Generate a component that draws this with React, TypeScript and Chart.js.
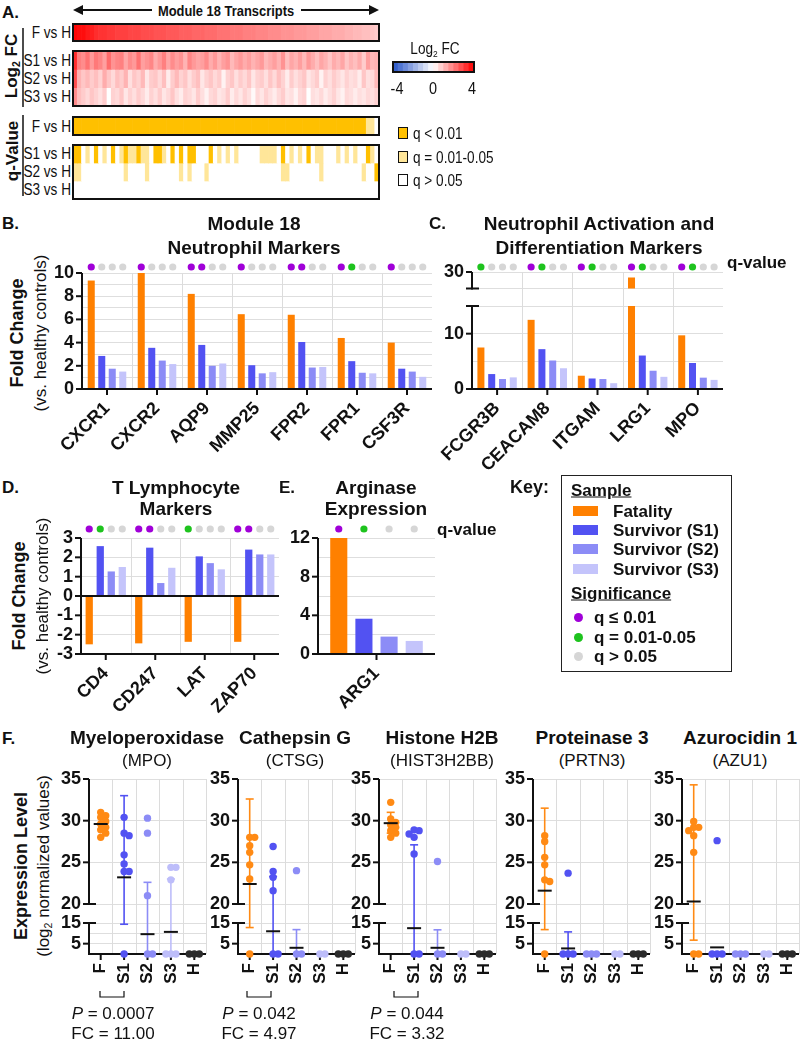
import React, { useEffect, useRef } from 'react';
import { Chart, registerables } from 'chart.js';
Chart.register(...registerables);

const SANS = '"Liberation Sans", Arial, Helvetica, sans-serif';
const INK = '#111111';
const GRID = '#dedede';

// ---------------- Panel A data (72 transcripts) ----------------
const HEAT_F = [3.9,3.8,3.8,3.6,3.5,3.3,3.2,3.2,3.1,3.1,3.0,3.0,3.0,2.9,2.9,2.9,2.8,2.8,2.8,2.7,2.7,2.7,2.6,2.6,2.6,2.5,2.5,2.5,2.4,2.4,2.4,2.3,2.3,2.3,2.2,2.2,2.2,2.1,2.1,2.1,2.0,2.0,2.0,1.9,1.9,1.9,1.8,1.8,1.8,1.7,1.7,1.7,1.6,1.6,1.6,1.5,1.5,1.5,1.4,1.4,1.4,1.3,1.3,1.3,1.2,1.2,1.1,1.1,1.0,1.0,0.9,0.8];
const HEAT_S1 = [3.3,2.0,1.8,2.2,1.6,2.1,1.9,1.5,2.3,1.7,1.9,2.0,1.4,1.8,1.6,2.2,1.5,1.7,1.9,1.3,1.6,2.0,1.4,1.8,1.5,1.7,1.2,1.9,1.6,1.4,1.5,1.8,1.3,1.6,1.2,1.5,1.7,1.1,1.4,1.6,1.3,1.5,1.2,1.4,1.6,1.1,1.3,1.5,1.2,1.7,1.0,1.4,1.2,1.5,1.1,1.6,1.3,1.0,1.4,1.2,0.9,1.3,1.1,1.4,0.9,1.2,1.0,1.3,0.8,1.5,1.1,1.2];
const HEAT_S2 = [2.8,1.2,0.9,1.1,0.8,1.0,0.7,1.3,0.9,0.6,1.0,0.8,1.2,0.5,0.9,0.7,1.1,0.4,0.8,0.9,0.6,1.0,0.3,0.8,1.1,0.7,0.9,0.5,0.8,1.0,0.4,0.7,0.9,0.6,0.8,0.2,0.7,0.9,0.5,0.8,0.6,0.9,0.4,0.7,0.8,0.5,0.9,0.6,1.0,0.7,0.3,0.8,0.5,0.7,0.9,0.4,0.6,0.8,0.2,0.7,0.5,0.8,0.6,0.4,0.7,0.5,0.6,0.3,0.9,0.5,0.6,1.1];
const HEAT_S3 = [1.8,1.0,0.8,0.6,0.9,0.7,0.5,0.8,0.0,0.7,0.6,0.9,0.4,0.7,0.5,0.8,0.6,0.3,0.7,0.5,0.8,0.4,0.6,0.9,0.5,0.3,0.7,0.6,0.4,0.8,0.5,0.2,0.6,0.7,0.4,0.5,0.8,0.3,0.6,0.4,0.7,0.5,0.1,0.6,0.4,0.7,0.5,0.3,0.6,0.8,0.4,0.5,0.2,0.6,0.7,0.0,0.5,0.4,0.6,0.3,0.5,0.7,0.4,0.2,0.6,0.5,0.3,0.5,0.4,0.6,0.5,0.7];
// q codes: 2 = q<0.01, 1 = 0.01-0.05, 0 = q>0.05
const Q_F = [2,2,2,2,2,2,2,2,2,2, 2,2,2,2,2,2,2,2,2,2, 2,2,2,2,2,2,2,2,2,2, 2,2,2,2,2,2,2,2,2,2, 2,2,2,2,2,2,2,2,2,2, 2,2,2,2,2,2,2,2,2,2, 2,2,2,2,2,2,2,2,2,1, 1,0];
const Q_S1 = [2,2,0,1,0,2,0,1,0,2, 0,1,2,1,1,2,1,1,0,2, 2,1,0,2,0,2,0,2,2,0, 0,0,2,0,1,0,1,0,1,0, 0,0,0,0,1,1,1,1,0,2, 0,1,0,1,0,2,0,1,1,0, 0,0,1,0,1,0,1,0,0,2, 1,0];
const Q_S2 = [1,1,0,0,0,0,0,0,0,0, 0,0,1,0,0,0,0,1,0,0, 0,0,0,0,0,1,0,1,0,0, 0,1,0,0,0,0,0,0,0,0, 0,0,0,0,0,0,0,0,0,1, 1,0,0,0,0,0,0,0,1,0, 0,0,0,0,0,0,0,0,1,0, 0,2];
const Q_S3 = [0,0,0,0,0,0,0,0,0,0, 0,0,0,0,0,0,0,0,0,0, 0,0,0,0,0,0,0,0,0,0, 0,0,0,0,0,0,0,0,0,0, 0,0,0,0,0,0,0,0,0,0, 0,0,0,0,0,0,0,0,0,0, 0,0,0,0,0,0,0,0,0,0, 0,0];
const CB_STEPS = [-3.75,-3.25,-2.75,-2.25,-1.75,-1.25,-0.75,-0.25,0.25,0.75,1.25,1.75,2.25,2.75,3.25,3.75];

// ---------------- Panel B ----------------
const B_GENES = ['CXCR1', 'CXCR2', 'AQP9', 'MMP25', 'FPR2', 'FPR1', 'CSF3R'];
const B_F = [9.35, 10.0, 8.2, 6.45, 6.4, 4.4, 4.0];
const B_S1 = [2.85, 3.55, 3.8, 2.05, 4.05, 2.4, 1.75];
const B_S2 = [1.75, 2.45, 2.0, 1.35, 1.85, 1.4, 1.5];
const B_S3 = [1.5, 2.15, 2.2, 1.45, 1.9, 1.35, 1.05];
const B_QF = [2, 2, 2, 2, 2, 2, 2];
const B_QS1 = [0, 0, 2, 0, 2, 1, 0];
const B_QS2 = [0, 0, 0, 0, 0, 0, 0];
const B_QS3 = [0, 0, 0, 0, 0, 0, 0];

// ---------------- Panel C ----------------
const C_GENES = ['FCGR3B', 'CEACAM8', 'ITGAM', 'LRG1', 'MPO'];
const C_F = [7.5, 12.5, 2.4, 29.0, 9.7];
const C_S1 = [2.7, 7.2, 1.9, 6.05, 4.7];
const C_S2 = [1.8, 5.15, 1.8, 3.3, 2.05];
const C_S3 = [2.1, 3.75, 1.05, 2.2, 1.65];
const C_QF = [1, 2, 2, 2, 2];
const C_QS1 = [0, 1, 1, 1, 1];
const C_QS2 = [0, 0, 0, 0, 0];
const C_QS3 = [0, 0, 0, 0, 0];

// ---------------- Panel D ----------------
const D_GENES = ['CD4', 'CD247', 'LAT', 'ZAP70'];
const D_F = [-2.5, -2.45, -2.37, -2.37];
const D_S1 = [2.58, 2.5, 2.05, 2.4];
const D_S2 = [1.27, 0.67, 1.7, 2.15];
const D_S3 = [1.5, 1.46, 1.38, 2.15];
const D_QF = [2, 2, 1, 2];
const D_QS1 = [1, 2, 0, 2];
const D_QS2 = [0, 0, 0, 0];
const D_QS3 = [0, 0, 0, 0];

// ---------------- Panel E ----------------
const E_GENES = ['ARG1'];
const E_F = [12.0];
const E_S1 = [3.65];
const E_S2 = [1.8];
const E_S3 = [1.35];
const E_Q = [[2], [1], [0], [0]];

// ---------------- Panel F ----------------
const F_GROUPS = ['F', 'S1', 'S2', 'S3', 'H'];
const MPO_PTS = [[31.0, 30.6, 30.4, 29.9, 29.6, 29.2, 28.9, 28.5, 28.0], [30.4, 28.5, 28.2, 25.9, 24.8, 23.9, 23.9, 0], [30.3, 28.5, 21.0, 0, 0], [24.4, 24.4, 22.9, 0, 0, 0], [0, 0, 0]];
const MPO_MEAN = [29.6, 23.2, 9.6, 10.7, null];
const MPO_LO = [null, 14.4, 0, 0, null];
const MPO_HI = [null, 33.0, 22.6, 23.0, null];

const CTSG_PTS = [[28.0, 28.0, 27.0, 26.2, 24.7, 23.0, 0], [26.9, 23.9, 23.2, 21.6, 0, 0], [24.0, 0, 0], [0, 0], [0, 0, 0]];
const CTSG_MEAN = [22.4, 11.0, 3.0, null, null];
const CTSG_LO = [12.8, 0, 0, null, null];
const CTSG_HI = [32.6, 23.3, 11.8, null, null];

const HIST_PTS = [[32.2, 30.2, 29.8, 29.5, 29.2, 28.8, 28.5, 28.0], [28.9, 28.8, 28.4, 28.0, 26.0, 0, 0], [25.1, 0, 0], [0, 0], [0, 0, 0]];
const HIST_MEAN = [29.7, 12.5, 3.0, null, null];
const HIST_LO = [28.5, 0, 0, null, null];
const HIST_HI = [31.0, 27.1, 11.7, null, null];

const PRTN3_PTS = [[28.2, 27.5, 25.6, 24.7, 22.9, 22.7, 0], [23.7, 0, 0, 0], [0, 0, 0], [0, 0], [0, 0, 0]];
const PRTN3_MEAN = [21.6, 2.7, null, null, null];
const PRTN3_LO = [11.8, 0, null, null, null];
const PRTN3_HI = [31.5, 10.7, null, null, null];

const AZU1_PTS = [[29.9, 29.2, 29.2, 28.8, 28.2, 26.2, 0, 0], [27.6, 0, 0, 0], [0, 0, 0], [0, 0], [0, 0, 0]];
const AZU1_MEAN = [20.3, 3.2, null, null, null];
const AZU1_LO = [6.7, null, null, null, null];
const AZU1_HI = [34.3, null, null, null, null];

// ---------------- styling ----------------
const SERIES = ['#FF8000', '#5252F2', '#8C8CF6', '#C4C4FB'];
const F_COLORS = ['#FF8A14', '#5252F2', '#8C8CF6', '#BDBDFA', '#2b2b2b'];
const QCOL = ['#d6d6d6', '#1ec31e', '#a000d8'];
const QHEAT = ['#ffffff', '#FFE699', '#FFC000'];
const TICK_FONT = { family: SANS, size: 18, weight: 'bold' as const };
const F_TICK_FONT = { family: SANS, size: 17, weight: 'bold' as const };

function logColor(v: number) {
  const t = Math.max(-1, Math.min(1, v / 4));
  if (t >= 0) {
    const g = Math.round(255 * (1 - t));
    return `rgb(255,${g},${g})`;
  }
  const s = -t;
  return `rgb(${Math.round(255 + (40 - 255) * s)},${Math.round(255 + (85 - 255) * s)},${Math.round(255 + (200 - 255) * s)})`;
}

function fixW(w: number) {
  return (s: any) => { s.width = w; s.paddingTop = 0; s.paddingBottom = 0; s.paddingLeft = 0; s.paddingRight = 0; };
}
function fixH(h: number) {
  return (s: any) => { s.height = h; s.paddingTop = 0; s.paddingBottom = 0; s.paddingLeft = 0; s.paddingRight = 0; };
}

function line(ctx: any, x1: number, y1: number, x2: number, y2: number) {
  ctx.beginPath(); ctx.moveTo(x1, y1); ctx.lineTo(x2, y2); ctx.stroke();
}

function decor(o: any) {
  const axes = (chart: any) => {
    const { ctx, chartArea: a } = chart;
    const xs = chart.scales.x; const ys = chart.scales.y;
    ctx.save(); ctx.strokeStyle = INK; ctx.lineWidth = 2;
    line(ctx, a.left, a.top, a.left, a.bottom + 1);
    (o.xLineAt || []).forEach((v: number) => { const y = ys.getPixelForValue(v); line(ctx, a.left - 1, y, a.right, y); });
    (o.yTicks || []).forEach((v: number) => { const y = ys.getPixelForValue(v); line(ctx, a.left - 6, y, a.left, y); });
    if (o.xTicks) for (let i = 0; i < o.xTicks; i++) { const x = xs.getPixelForValue(i); line(ctx, x, a.bottom, x, a.bottom + 6); }
    if (o.breakTop) line(ctx, a.left - 6, a.top, a.left + 7, a.top);
    if (o.breakBottom) line(ctx, a.left - 6, a.bottom, a.left + 7, a.bottom);
    ctx.restore();
  };
  return {
    id: 'decor',
    beforeDatasetsDraw(chart: any) {
      const { ctx, chartArea: a } = chart;
      const xs = chart.scales.x; const ys = chart.scales.y;
      ctx.save();
      if (o.bounds) {
        ctx.strokeStyle = '#dcdcdc'; ctx.lineWidth = 1;
        o.bounds.forEach((b: number) => { const x = Math.round(xs.getPixelForValue(b)) + 0.5; line(ctx, x, a.top, x, a.bottom + (o.extBottom || 0)); });
      }
      if (o.err) {
        const e = o.err; const gap = o.extBottom || 0;
        const segPix = (v: number) => (v > e.ymax ? a.top : v < e.ymin ? a.bottom + gap : ys.getPixelForValue(v));
        const inSeg = (v: number) => v >= e.ymin && v <= e.ymax;
        ctx.lineWidth = 1.6;
        e.mean.forEach((m: number | null, g: number) => {
          if (m == null) return;
          const x = xs.getPixelForValue(g);
          ctx.strokeStyle = e.colors[g];
          const hi = e.hi[g]; const lo = e.lo[g];
          const segs: number[][] = [];
          if (hi != null) segs.push([m, hi]);
          if (lo != null) segs.push([lo, m]);
          segs.forEach(([v1, v2]) => {
            if ((v1 < e.ymin && v2 < e.ymin) || (v1 > e.ymax && v2 > e.ymax)) return;
            line(ctx, x, segPix(v1), x, segPix(v2));
          });
          [hi, lo].forEach((v: number | null) => {
            if (v != null && v > 0 && inSeg(v)) { const y = ys.getPixelForValue(v); line(ctx, x - 4, y, x + 4, y); }
          });
        });
      }
      ctx.restore();
      if (o.axesBehind) axes(chart);
    },
    afterDatasetsDraw(chart: any) {
      if (!o.axesBehind) axes(chart);
      const { ctx, chartArea: a } = chart;
      const xs = chart.scales.x; const ys = chart.scales.y;
      ctx.save();
      if (o.qdots) {
        o.qdots.q.forEach((row: number[], i: number) => {
          const meta = chart.getDatasetMeta(i);
          row.forEach((c: number, j: number) => {
            const el = meta.data[j];
            ctx.fillStyle = QCOL[c];
            ctx.beginPath(); ctx.arc(el.x, a.top - o.qdots.dy, 3.6, 0, Math.PI * 2); ctx.fill();
          });
        });
      }
      if (o.err) {
        const e = o.err;
        ctx.strokeStyle = INK; ctx.lineWidth = 2;
        e.mean.forEach((m: number | null, g: number) => {
          if (m == null || m < e.ymin || m > e.ymax) return;
          const x = xs.getPixelForValue(g); const y = ys.getPixelForValue(m);
          line(ctx, x - 7, y, x + 7, y);
        });
      }
      ctx.restore();
    },
  };
}

function barChart(p: any) {
  return {
    type: 'bar',
    data: {
      labels: p.labels,
      datasets: p.series.map((d: number[], i: number) => ({
        data: d, backgroundColor: SERIES[i], borderWidth: 0, clip: 0,
        categoryPercentage: p.catPct, barPercentage: p.barPct,
      })),
    },
    options: {
      responsive: false, animation: false, events: [],
      layout: { padding: { top: p.top, right: p.right, bottom: p.bottom || 0, left: 0 } },
      plugins: { legend: { display: false }, tooltip: { enabled: false } },
      scales: {
        x: p.showX === false ? { display: false } : {
          grid: { display: false, drawTicks: false }, border: { display: false },
          ticks: { font: TICK_FONT, color: INK, autoSkip: false, minRotation: 45, maxRotation: 45, padding: 9 },
          afterFit: fixH(p.xH),
        },
        y: {
          min: p.min, max: p.max,
          grid: { color: GRID, drawTicks: false }, border: { display: false },
          ticks: { stepSize: p.step, autoSkip: false, font: TICK_FONT, color: INK, padding: 8, callback: (v: number) => (p.show(v) ? String(v) : '') },
          afterFit: fixW(p.yW),
        },
      },
    },
    plugins: [decor(p.decor)],
  };
}

function heatChart(rows: number[][], colorFn: (v: number) => string) {
  const n = rows.length;
  return {
    type: 'bar',
    data: {
      labels: rows[0].map((_, i) => String(i + 1)),
      datasets: rows.map((r, ri) => ({
        data: r.map(() => [n - 1 - ri, n - ri]),
        backgroundColor: r.map(colorFn), borderWidth: 0,
        barPercentage: 1, categoryPercentage: 1, grouped: false,
      })),
    },
    options: {
      responsive: false, animation: false, events: [],
      layout: { padding: 0 },
      plugins: { legend: { display: false }, tooltip: { enabled: false } },
      scales: { x: { display: false }, y: { display: false, min: 0, max: n } },
    },
  };
}

function swarm(vals: number[]): number[] {
  const toPx = (v: number) => (v >= 17.5 ? 60 + (v - 20) * 8.4 : v * 2.1);
  const placed: { x: number; y: number }[] = [];
  const cand = [0, 5, -5, 10, -10, 2.5, -2.5, 7.5, -7.5, 12.5, -12.5];
  return vals.map((v) => {
    const y = toPx(v);
    const ok = cand.find((c) => placed.every((p) => Math.hypot(p.x - c, p.y - y) >= 5));
    const px = ok === undefined ? 0 : ok;
    placed.push({ x: px, y });
    return px / 23.4;
  });
}

function fChart(pts: number[][], mean: any[], lo: any[], hi: any[], top: boolean) {
  const offs = pts.map(swarm);
  const ymin = top ? 20 : 0; const ymax = top ? 35 : 15;
  return {
    type: 'scatter',
    data: {
      datasets: F_GROUPS.map((g, gi) => ({
        label: g,
        data: pts[gi].map((v, k) => ({ x: gi + offs[gi][k], y: v })),
        backgroundColor: F_COLORS[gi], pointRadius: 3.7, pointBorderWidth: 0, pointHoverRadius: 0,
        clip: top ? { left: false, right: false, top: 8, bottom: 0 } : { left: false, right: false, top: 0, bottom: false },
      })),
    },
    options: {
      responsive: false, animation: false, events: [],
      layout: { padding: { top: top ? 11 : 8, right: 4, bottom: top ? 24 : 0, left: 0 } },
      plugins: { legend: { display: false }, tooltip: { enabled: false } },
      scales: {
        x: top ? { type: 'linear', min: -0.5, max: 4.5, display: false } : {
          type: 'linear', min: -0.5, max: 4.5,
          grid: { display: false, drawTicks: false }, border: { display: false },
          afterBuildTicks: (s: any) => { s.ticks = F_GROUPS.map((_, i) => ({ value: i })); },
          ticks: { font: F_TICK_FONT, color: INK, autoSkip: false, minRotation: 90, maxRotation: 90, padding: 9, callback: (v: number) => F_GROUPS[v] },
          afterFit: fixH(46),
        },
        y: {
          min: ymin, max: ymax,
          grid: { color: GRID, drawTicks: false }, border: { display: false },
          ticks: { stepSize: 5, autoSkip: false, font: TICK_FONT, color: INK, padding: 8, callback: (v: number) => (top || v === 5 || v === 15 ? String(v) : '') },
          afterFit: fixW(40),
        },
      },
    },
    plugins: [decor({
      bounds: [0.5, 1.5, 2.5, 3.5, 4.5],
      extBottom: top ? 19 : 0,
      yTicks: top ? [25, 30, 35] : [5],
      breakTop: !top, breakBottom: top,
      xLineAt: top ? [] : [0],
      xTicks: top ? 0 : 5,
      axesBehind: !top,
      err: { mean, lo, hi, colors: F_COLORS, ymin, ymax },
    })],
  };
}

function ChartBox({ x, y, w, h, make }: { x: number; y: number; w: number; h: number; make: () => any }) {
  const ref = useRef<HTMLCanvasElement>(null);
  useEffect(() => {
    const c = new Chart(ref.current as HTMLCanvasElement, make());
    return () => c.destroy();
  }, []);
  return (
    <div style={{ position: 'absolute', left: x, top: y, width: w, height: h }}>
      <canvas ref={ref} width={w} height={h} style={{ width: w, height: h, display: 'block' }} />
    </div>
  );
}

type TP = { x: number; y: number; s?: number; b?: boolean; i?: boolean; a?: 'left' | 'center' | 'right'; r?: number; sx?: number; u?: boolean; children: React.ReactNode };
function T({ x, y, s = 17, b = false, i = false, a = 'center', r = 0, sx = 1, u = false, children }: TP) {
  const tx = a === 'center' ? '-50%' : a === 'right' ? '-100%' : '0%';
  const origin = a === 'center' ? 'center center' : a === 'right' ? 'right center' : 'left center';
  return (
    <div style={{ position: 'absolute', left: x, top: y, transform: `translate(${tx}, -50%) rotate(${r}deg) scaleX(${sx})`, transformOrigin: origin, whiteSpace: 'nowrap', fontFamily: SANS, fontSize: s, fontWeight: b ? 700 : 400, fontStyle: i ? 'italic' : 'normal', textDecoration: u ? 'underline' : 'none', lineHeight: 1, color: INK }}>
      {children}
    </div>
  );
}
const Sub = ({ c }: { c: string }) => <span style={{ fontSize: '0.62em', verticalAlign: '-0.28em' }}>{c}</span>;

function Box({ x, y, w, h }: { x: number; y: number; w: number; h: number }) {
  return <div style={{ position: 'absolute', left: x - 1, top: y - 1, width: w + 2, height: h + 2, border: `2px solid ${INK}`, boxSizing: 'border-box' }} />;
}

const F_PANELS = [
  { ax: 89, title: 'Myeloperoxidase', sub: '(MPO)', pts: MPO_PTS, mean: MPO_MEAN, lo: MPO_LO, hi: MPO_HI, tx: 147 },
  { ax: 238, title: 'Cathepsin G', sub: '(CTSG)', pts: CTSG_PTS, mean: CTSG_MEAN, lo: CTSG_LO, hi: CTSG_HI, tx: 295 },
  { ax: 379, title: 'Histone H2B', sub: '(HIST3H2BB)', pts: HIST_PTS, mean: HIST_MEAN, lo: HIST_LO, hi: HIST_HI, tx: 442 },
  { ax: 533, title: 'Proteinase 3', sub: '(PRTN3)', pts: PRTN3_PTS, mean: PRTN3_MEAN, lo: PRTN3_LO, hi: PRTN3_HI, tx: 592 },
  { ax: 682, title: 'Azurocidin 1', sub: '(AZU1)', pts: AZU1_PTS, mean: AZU1_MEAN, lo: AZU1_LO, hi: AZU1_HI, tx: 740 },
];
const F_STATS = [
  { cx: 113, p: '0.0007', fc: '11.00', b1: 100, b2: 124 },
  { cx: 259, p: '0.042', fc: '4.97', b1: 247, b2: 271 },
  { cx: 407, p: '0.044', fc: '3.32', b1: 394, b2: 418 },
];

export default function App() {
  const a = 16, sxA = 0.85;
  return (
    <div style={{ position: 'absolute', left: 0, top: 0, width: 800, height: 1043, background: '#fff', overflow: 'hidden' }}>
      <svg style={{ position: 'absolute', left: 0, top: 0 }} width={800} height={1043}>
        <line x1={80} y1={10} x2={152} y2={10} stroke={INK} strokeWidth={2} />
        <polygon points="73,10 83,5 83,15" fill={INK} />
        <line x1={301} y1={10} x2={372} y2={10} stroke={INK} strokeWidth={2} />
        <polygon points="379,10 369,5 369,15" fill={INK} />
        <line x1={23} y1={28} x2={23} y2={107} stroke={INK} strokeWidth={1.5} />
        <line x1={23} y1={115} x2={23} y2={196} stroke={INK} strokeWidth={1.5} />
        {F_STATS.map((s, k) => (
          <path key={k} d={`M${s.b1},991 L${s.b1},997 L${s.b2},997 L${s.b2},991`} stroke={INK} strokeWidth={1.2} fill="none" />
        ))}
      </svg>

      {/* ---------- Panel A ---------- */}
      <T x={2} y={12} b a="left" s={17}>A.</T>
      <T x={226} y={10} b s={15} sx={0.86}>Module 18 Transcripts</T>
      <T x={12} y={66} b r={-90} s={17}>Log<Sub c="2" /> FC</T>
      <T x={12} y={151} b r={-90} s={17}>q-Value</T>
      <T x={71} y={33} a="right" s={a} sx={sxA}>F vs H</T>
      <T x={71} y={61} a="right" s={a} sx={sxA}>S1 vs H</T>
      <T x={71} y={79} a="right" s={a} sx={sxA}>S2 vs H</T>
      <T x={71} y={97} a="right" s={a} sx={sxA}>S3 vs H</T>
      <T x={71} y={127} a="right" s={a} sx={sxA}>F vs H</T>
      <T x={71} y={154} a="right" s={a} sx={sxA}>S1 vs H</T>
      <T x={71} y={172} a="right" s={a} sx={sxA}>S2 vs H</T>
      <T x={71} y={190} a="right" s={a} sx={sxA}>S3 vs H</T>
      <ChartBox x={73} y={24} w={306} h={17} make={() => heatChart([HEAT_F], logColor)} />
      <ChartBox x={73} y={51} w={306} h={55} make={() => heatChart([HEAT_S1, HEAT_S2, HEAT_S3], logColor)} />
      <ChartBox x={73} y={117} w={306} h={18} make={() => heatChart([Q_F], (v) => QHEAT[v])} />
      <ChartBox x={73} y={145} w={306} h={54} make={() => heatChart([Q_S1, Q_S2, Q_S3], (v) => QHEAT[v])} />
      <ChartBox x={393} y={62} w={81} h={10} make={() => heatChart([CB_STEPS], logColor)} />
      <Box x={73} y={24} w={306} h={17} />
      <Box x={73} y={51} w={306} h={55} />
      <Box x={73} y={117} w={306} h={18} />
      <Box x={73} y={145} w={306} h={54} />
      <Box x={393} y={62} w={81} h={10} />
      <T x={435} y={50} s={16} sx={0.85}>Log<Sub c="2" /> FC</T>
      <T x={397} y={88} s={17} sx={0.85}>-4</T>
      <T x={433} y={88} s={17} sx={0.85}>0</T>
      <T x={472} y={88} s={17} sx={0.85}>4</T>
      {[{ y: 133, c: QHEAT[2], t: 'q < 0.01' }, { y: 157, c: QHEAT[1], t: 'q = 0.01-0.05' }, { y: 180, c: QHEAT[0], t: 'q > 0.05' }].map((r, k) => (
        <React.Fragment key={k}>
          <div style={{ position: 'absolute', left: 398, top: r.y - 6, width: 10, height: 12, background: r.c, border: `1.5px solid ${INK}`, boxSizing: 'border-box' }} />
          <T x={413} y={r.y} a="left" s={17} sx={0.8}>{r.t}</T>
        </React.Fragment>
      ))}

      {/* ---------- Panel B ---------- */}
      <T x={2} y={223} b a="left">B.</T>
      <T x={254} y={223} b s={19}>Module 18</T>
      <T x={254} y={247} b s={19}>Neutrophil Markers</T>
      <T x={17} y={333} b r={-90} s={18}>Fold Change</T>
      <T x={40} y={333} r={-90} s={17}>(vs. healthy controls)</T>
      <ChartBox x={30} y={255} w={410} h={215} make={() => barChart({
        labels: B_GENES, series: [B_F, B_S1, B_S2, B_S3], min: 0, max: 10, step: 1, show: (v: number) => v % 2 === 0,
        yW: 52, top: 18, right: 8, xH: 81, catPct: 0.84, barPct: 0.67,
        decor: { bounds: B_GENES.slice(1).map((_, i) => i + 0.5), xLineAt: [0], yTicks: [0, 2, 4, 6, 8, 10], xTicks: B_GENES.length, qdots: { q: [B_QF, B_QS1, B_QS2, B_QS3], dy: 6 } },
      })} />

      {/* ---------- Panel C ---------- */}
      <T x={429} y={223} b a="left">C.</T>
      <T x={599} y={223} b s={19}>Neutrophil Activation and</T>
      <T x={599} y={247} b s={19}>Differentiation Markers</T>
      <T x={727} y={262} b a="left">q-value</T>
      <ChartBox x={400} y={255} w={330} h={55} make={() => barChart({
        labels: C_GENES, series: [C_F, C_S1, C_S2, C_S3], min: 27, max: 30, step: 3, show: (v: number) => v === 30,
        yW: 72, top: 17, right: 7, bottom: 21.5, showX: false, catPct: 0.86, barPct: 0.65,
        decor: { bounds: C_GENES.slice(1).map((_, i) => i + 0.5), extBottom: 17.5, yTicks: [30], breakBottom: true, qdots: { q: [C_QF, C_QS1, C_QS2, C_QS3], dy: 5 } },
      })} />
      <ChartBox x={400} y={300} w={330} h={185} make={() => barChart({
        labels: C_GENES, series: [C_F, C_S1, C_S2, C_S3], min: 0, max: 15, step: 5, show: (v: number) => v === 0 || v === 10,
        yW: 72, top: 6, right: 7, xH: 96, catPct: 0.86, barPct: 0.65,
        decor: { bounds: C_GENES.slice(1).map((_, i) => i + 0.5), xLineAt: [0], yTicks: [0, 10], xTicks: C_GENES.length, breakTop: true },
      })} />

      {/* ---------- Panel D ---------- */}
      <T x={2} y={487} b a="left">D.</T>
      <T x={176} y={487} b s={19}>T Lymphocyte</T>
      <T x={176} y={508} b s={19}>Markers</T>
      <T x={19} y={596} b r={-90} s={18}>Fold Change</T>
      <T x={42} y={596} r={-90} s={17}>(vs. healthy controls)</T>
      <ChartBox x={30} y={520} w={255} h={210} make={() => barChart({
        labels: D_GENES, series: [D_F, D_S1, D_S2, D_S3], min: -3, max: 3, step: 1, show: () => true,
        yW: 51, top: 18, right: 6, xH: 76, catPct: 0.89, barPct: 0.66,
        decor: { bounds: D_GENES.slice(1).map((_, i) => i + 0.5), xLineAt: [0, -3], yTicks: [-3, -2, -1, 0, 1, 2, 3], xTicks: D_GENES.length, qdots: { q: [D_QF, D_QS1, D_QS2, D_QS3], dy: 9 } },
      })} />

      {/* ---------- Panel E ---------- */}
      <T x={279} y={487} b a="left">E.</T>
      <T x={376} y={487} b s={19}>Arginase</T>
      <T x={376} y={508} b s={19}>Expression</T>
      <T x={437} y={529} b a="left">q-value</T>
      <ChartBox x={285} y={520} w={155} h={210} make={() => barChart({
        labels: E_GENES, series: [E_F, E_S1, E_S2, E_S3], min: 0, max: 12, step: 2, show: (v: number) => v % 4 === 0,
        yW: 33, top: 18, right: 5, xH: 76, catPct: 0.86, barPct: 0.68,
        decor: { xLineAt: [0], yTicks: [0, 4, 8, 12], xTicks: 1, qdots: { q: E_Q, dy: 9 } },
      })} />

      {/* ---------- Key ---------- */}
      <T x={510} y={487} b a="left" s={18}>Key:</T>
      <div style={{ position: 'absolute', left: 561, top: 475, width: 171, height: 197, border: '1.5px solid #222', boxSizing: 'border-box' }} />
      <T x={571} y={490} b u a="left">Sample</T>
      {['Fatality', 'Survivor (S1)', 'Survivor (S2)', 'Survivor (S3)'].map((t, k) => (
        <React.Fragment key={t}>
          <div style={{ position: 'absolute', left: 573, top: [511, 530, 549, 569][k] - 5, width: 25, height: 10, background: SERIES[k] }} />
          <T x={613} y={[511, 530, 549, 569][k]} b a="left">{t}</T>
        </React.Fragment>
      ))}
      <T x={571} y={593} b u a="left">Significance</T>
      {[{ y: 617, c: QCOL[2], t: 'q ≤ 0.01' }, { y: 637, c: QCOL[1], t: 'q = 0.01-0.05' }, { y: 656, c: QCOL[0], t: 'q > 0.05' }].map((r) => (
        <React.Fragment key={r.t}>
          <div style={{ position: 'absolute', left: 574, top: r.y - 4.5, width: 9, height: 9, borderRadius: '50%', background: r.c }} />
          <T x={594} y={r.y} b a="left">{r.t}</T>
        </React.Fragment>
      ))}

      {/* ---------- Panel F ---------- */}
      <T x={2} y={738} b a="left">F.</T>
      <T x={21} y={866} b r={-90} s={18}>Expression Level</T>
      <T x={44} y={866} r={-90} s={17}>(log<Sub c="2" /> normalized values)</T>
      {F_PANELS.map((p) => (
        <React.Fragment key={p.title}>
          <T x={p.tx} y={737} b s={19}>{p.title}</T>
          <T x={p.tx} y={760} s={17}>{p.sub}</T>
          <ChartBox x={p.ax - 40} y={768} w={161} h={160} make={() => fChart(p.pts, p.mean, p.lo, p.hi, true)} />
          <ChartBox x={p.ax - 40} y={915} w={161} h={85} make={() => fChart(p.pts, p.mean, p.lo, p.hi, false)} />
        </React.Fragment>
      ))}
      {F_STATS.map((s) => (
        <React.Fragment key={s.p}>
          <T x={s.cx} y={1013} s={17}><i>P</i> = {s.p}</T>
          <T x={s.cx} y={1033} s={17}>FC = {s.fc}</T>
        </React.Fragment>
      ))}
    </div>
  );
}
